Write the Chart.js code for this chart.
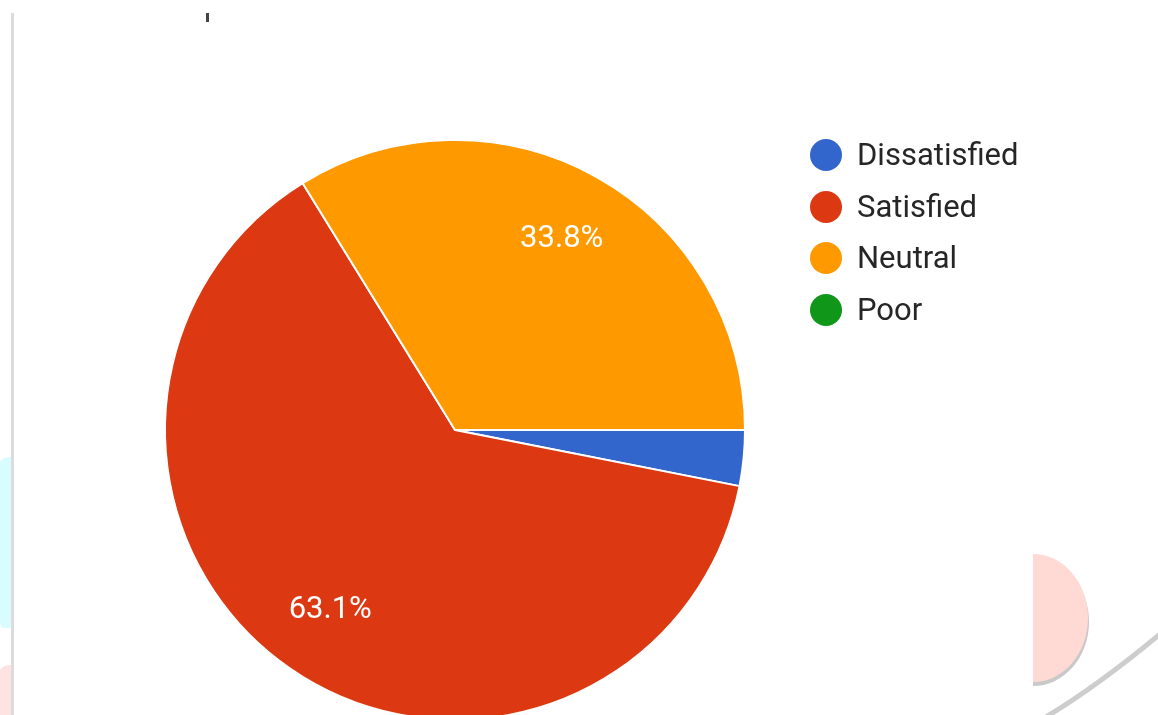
<!DOCTYPE html>
<html>
<head>
<meta charset="utf-8">
<script src="https://cdn.jsdelivr.net/npm/chart.js@4.4.1/dist/chart.umd.min.js"></script>
<style>
  html, body { margin: 0; padding: 0; width: 1158px; height: 715px; overflow: hidden; background: #fff; }
  #wrap { position: absolute; left: 0; top: 0; width: 1158px; height: 760px; }
  #deco { position: absolute; left: 0; top: 0; width: 1158px; height: 715px; pointer-events: none; }
  #legend { position: absolute; left: 808px; top: 135px; font-family: Roboto, "Noto Sans", sans-serif; font-size: 31px; color: #262626; }
  .item { position: relative; height: 51.7px; line-height: 40px; padding-left: 49px; white-space: nowrap; }
  .dot { position: absolute; left: 2px; top: 4px; width: 32px; height: 32px; border-radius: 50%; }
</style>
</head>
<body>
<svg id="deco" width="1158" height="715">
  <rect x="11" y="13" width="3" height="702" fill="#dcdcdc"/>
  <path d="M0,462 Q2,457 11,457 L11,628 L3,628 Q0,626 0,620 Z" fill="#d9fdff"/>
  <path d="M0,670 Q3,665 11,665 L11,715 L0,715 Z" fill="#ffe3e3"/>
  <rect x="206" y="13" width="3" height="9" fill="#444"/>
  <path d="M1033,558 A56,64 0 0 1 1033,686 Z" fill="#c9c9c9"/>
  <path d="M1033,554 A55,64 0 0 1 1033,682 Z" fill="#ffd9d3"/>
  <path d="M1046,717 Q1100,684 1160,634" fill="none" stroke="#cdcdcd" stroke-width="5"/>
</svg>
<div id="wrap"><canvas id="c" width="1158" height="760"></canvas></div>
<div id="legend"></div>
<script>
const categories = ["Dissatisfied", "Satisfied", "Neutral", "Poor"];
const percentages = [3.1, 63.1, 33.8, 0];
const sliceColors = ["#3366CC", "#DC3912", "#FF9900", "#109618"];

// HTML legend built from the arrays
const legendEl = document.getElementById('legend');
categories.forEach((name, i) => {
  const it = document.createElement('div');
  it.className = 'item';
  const d = document.createElement('span');
  d.className = 'dot';
  d.style.background = sliceColors[i];
  it.appendChild(d);
  it.appendChild(document.createTextNode(name));
  legendEl.appendChild(it);
});

const sliceLabels = {
  id: 'sliceLabels',
  afterDatasetsDraw(chart) {
    const ctx = chart.ctx;
    const meta = chart.getDatasetMeta(0);
    const vals = chart.data.datasets[0].data;
    const total = vals.reduce((a, b) => a + b, 0);
    ctx.save();
    ctx.fillStyle = '#ffffff';
    ctx.font = '31px Roboto, "Noto Sans", sans-serif';
    ctx.textAlign = 'center';
    ctx.textBaseline = 'middle';
    meta.data.forEach((arc, i) => {
      const pct = vals[i] / total * 100;
      if (pct < 5) return;
      const p = arc.getProps(['x', 'y', 'startAngle', 'endAngle', 'outerRadius'], true);
      const mid = (p.startAngle + p.endAngle) / 2;
      const r = p.outerRadius * 0.755;
      ctx.fillText(vals[i].toFixed(1) + '%', p.x + Math.cos(mid) * r, p.y + Math.sin(mid) * r);
    });
    ctx.restore();
  }
};

new Chart(document.getElementById('c'), {
  type: 'pie',
  data: {
    labels: categories,
    datasets: [{
      data: percentages,
      backgroundColor: sliceColors,
      borderColor: '#ffffff',
      borderWidth: 2
    }]
  },
  options: {
    responsive: false,
    animation: false,
    rotation: 90,
    layout: { padding: { left: 164, right: 412, top: 139, bottom: 39 } },
    plugins: {
      legend: { display: false },
      tooltip: { enabled: false },
      title: { display: false }
    }
  },
  plugins: [sliceLabels]
});
</script>
</body>
</html>
